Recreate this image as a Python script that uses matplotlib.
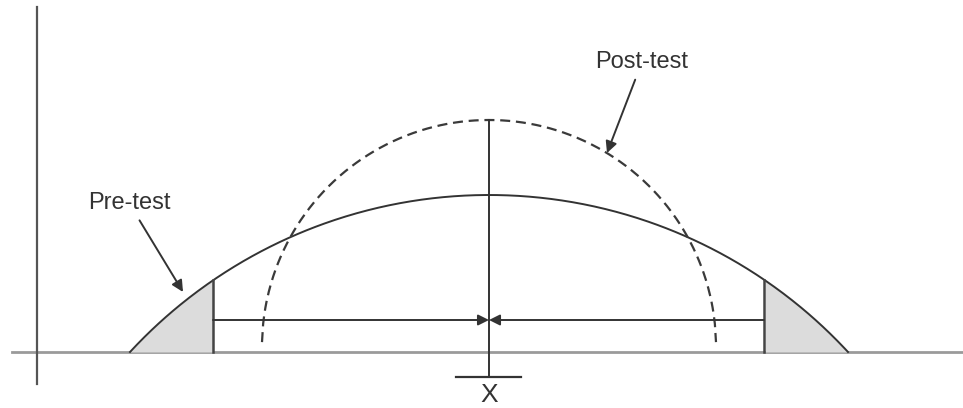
import numpy as np
import matplotlib.pyplot as plt

# diagram values, in figure pixel units (y measured upwards from the bottom)
baseline_y = 56
centre_x = 489
pre_test = [130, 848, 213]     # left foot, right foot, peak height
post_test = [262, 716, 288]
cutoffs = [213, 764]
arrow_y = 88
axis_x = 37
labels = ["Pre-test", "Post-test", "X"]

ink = '#333333'


def arc(left, right, peak, n=400):
    # circular arc through the two feet and the top
    half = (right - left) / 2.0
    h = peak - baseline_y
    r = (half**2 + h**2) / (2 * h)
    cx = (left + right) / 2.0
    cy = peak - r
    xs = np.linspace(left, right, n)
    ys = cy + np.sqrt(np.clip(r**2 - (xs - cx)**2, 0, None))
    return xs, ys, (cx, cy, r)


def arc_y(x, params):
    cx, cy, r = params
    return cy + np.sqrt(r**2 - (x - cx)**2)


fig = plt.figure(figsize=(9.63, 4.08), dpi=100)
ax = fig.add_axes([0, 0, 1, 1])
ax.set_xlim(0, 963)
ax.set_ylim(0, 408)
ax.axis('off')

# axes of the sketch
ax.plot([12, 963], [baseline_y, baseline_y], color='#9a9a9a', lw=2.0, zorder=1)
ax.plot([axis_x, axis_x], [24, 401], color='#555555', lw=1.6)

# pre-test curve with shaded tails
px, py, pre_params = arc(*pre_test)
ax.plot(px, py, color=ink, lw=1.4, zorder=3)
left_tail = px <= cutoffs[0]
right_tail = px >= cutoffs[1]
ax.fill_between(px[left_tail], baseline_y, py[left_tail], color='#dcdcdc', lw=0, zorder=2)
ax.fill_between(px[right_tail], baseline_y, py[right_tail], color='#dcdcdc', lw=0, zorder=2)
for c in cutoffs:
    ax.plot([c, c], [baseline_y, arc_y(c, pre_params)], color='#444444', lw=1.8, zorder=3)

# post-test curve
qx, qy, post_params = arc(*post_test)
ax.plot(qx, qy, color='#3a3a3a', lw=1.6, linestyle=(0, (4.5, 2.6)), zorder=3)

# centre line and tick
ax.plot([centre_x, centre_x], [31, post_test[2]], color=ink, lw=1.4, zorder=3)
ax.plot([456, 521], [31, 31], color=ink, lw=1.6, zorder=3)

# arrows from the cutoffs to the centre
for c in cutoffs:
    ax.annotate('', xy=(centre_x, arrow_y), xytext=(c, arrow_y),
                arrowprops=dict(arrowstyle='-|>', color=ink, lw=1.4,
                                mutation_scale=16, shrinkA=0, shrinkB=0))

# labels
ax.annotate(labels[0], xy=(183, 116), xytext=(129, 205), ha='center', va='center',
            fontsize=17, family='Liberation Sans', color='#333333',
            arrowprops=dict(arrowstyle='-|>', color=ink, lw=1.4,
                            mutation_scale=17, shrinkA=3, shrinkB=0))
ax.annotate(labels[1], xy=(607, 255), xytext=(642, 346), ha='center', va='center',
            fontsize=17, family='Liberation Sans', color='#333333',
            arrowprops=dict(arrowstyle='-|>', color=ink, lw=1.4,
                            mutation_scale=17, shrinkA=3, shrinkB=0))
ax.text(centre_x, 0.5, labels[2], ha='center', va='bottom', fontsize=19,
        family='Liberation Sans', color='#333333')

fig.savefig('out.png', dpi=100)
